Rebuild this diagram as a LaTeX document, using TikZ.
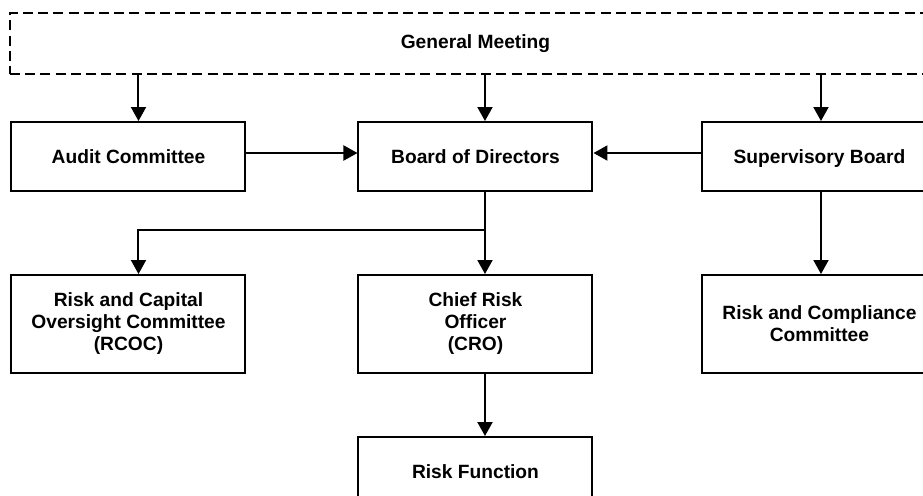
\documentclass[tikz,border=0pt]{standalone}
\usepackage{fontspec}
\setmainfont{Liberation Sans}
\usepackage{tikz}
\usetikzlibrary{arrows.meta,positioning,calc}
\tikzset{
  orgbox/.style={draw=black,line width=1pt,fill=white,minimum width=117pt,align=center,font=\fontsize{9.6}{11}\selectfont\bfseries,inner sep=2pt},
  onerow/.style={minimum height=34.5pt,text height=9pt,text depth=1.7pt},
  orgarr/.style={-{Triangle[length=7pt,width=7.5pt]},line width=1pt,black}
}
\begin{document}
\begin{tikzpicture}
      \useasboundingbox (-237.75pt,78.25pt) rectangle (223.75pt,-169.25pt);
      \node[orgbox,onerow] (bd) at (0,0) {Board of Directors};
      \node[orgbox,onerow,left=55.5pt of bd] (ac) {Audit Committee};
      \node[orgbox,onerow,right=54pt of bd] (sb) {Supervisory Board};
      \node[orgbox,dash pattern=on 5pt off 2.6pt,minimum width=465.5pt,minimum height=30.5pt,above=23pt of bd] (gm) {General Meeting};
      \node[orgbox,minimum height=49pt,below=41pt of bd] (cro) {Chief Risk\\Officer\\ (CRO)};
      \node[orgbox,minimum height=49pt,below=41pt of ac] (rcoc) {Risk and Capital\\Oversight Committee\\(RCOC)};
      \node[orgbox,minimum height=49pt,below=41pt of sb] (rcc) {Risk and Compliance\\Committee};
      \node[orgbox,onerow,below=31pt of cro] (rf) {Risk Function};
      \draw[orgarr] ([xshift=5pt]ac.north |- gm.south) -- ([xshift=5pt]ac.north);
      \draw[orgarr] ([xshift=4.75pt]bd.north |- gm.south) -- ([xshift=4.75pt]bd.north);
      \draw[orgarr] ([xshift=0.75pt]sb.north |- gm.south) -- ([xshift=0.75pt]sb.north);
      \draw[orgarr] ([yshift=1.75pt]ac.east) -- ([yshift=1.75pt]ac.east -| bd.west);
      \draw[orgarr] ([yshift=1.75pt]sb.west) -- ([yshift=1.75pt]sb.west -| bd.east);
      \draw[orgarr] ([xshift=4.75pt]bd.south) -- ([xshift=4.75pt]cro.north);
      \coordinate (split) at ($([xshift=4.75pt]bd.south)+(0,-19pt)$);
      \draw[orgarr] (split) -| ([xshift=5pt]rcoc.north);
      \draw[orgarr] ([xshift=0.75pt]sb.south) -- ([xshift=0.75pt]rcc.north);
      \draw[orgarr] ([xshift=4.75pt]cro.south) -- ([xshift=4.75pt]rf.north);
    \end{tikzpicture}
\end{document}
